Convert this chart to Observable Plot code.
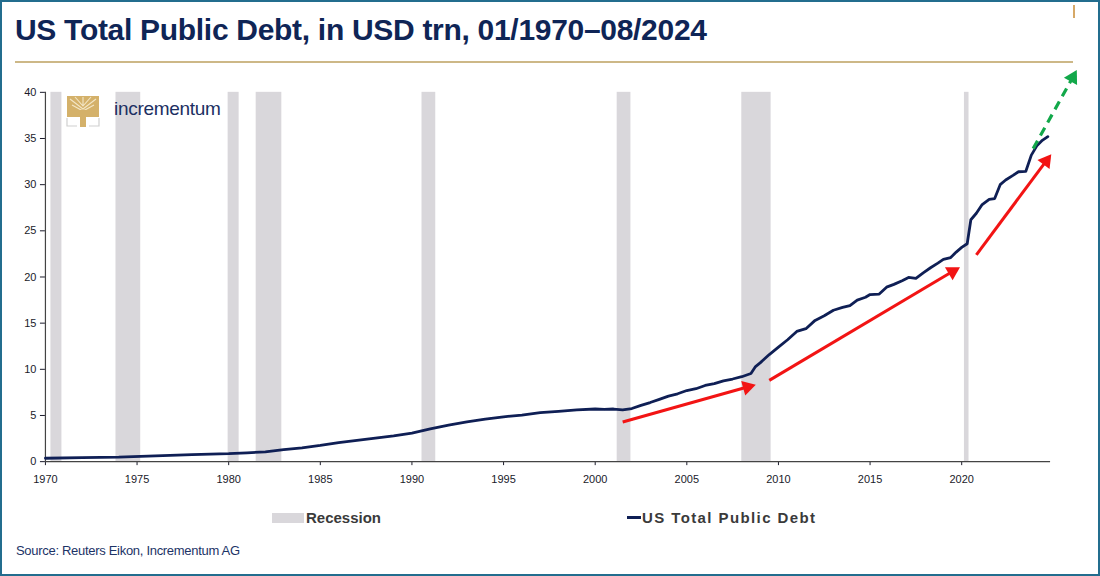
<!DOCTYPE html>
<html>
<head>
<meta charset="utf-8">
<script src="https://cdn.jsdelivr.net/npm/d3@7"></script>
<script src="https://cdn.jsdelivr.net/npm/@observablehq/plot@0.6"></script>
<style>
  html, body { margin: 0; padding: 0; background: #fff; }
  #page { position: relative; width: 1100px; height: 576px; box-sizing: border-box; border: 2px solid #236d8e; overflow: hidden; font-family: Arial, "Liberation Sans", sans-serif; }
  #title { position: absolute; left: 13px; top: 11px; font-size: 30px; font-weight: bold; color: #0f2556; letter-spacing: -0.3px; white-space: nowrap; }
  #rule { position: absolute; left: 13px; top: 59px; width: 1058px; height: 2px; background: #cdb887; }
  #tick { position: absolute; left: 1071px; top: 3px; width: 2px; height: 13px; background: #d6a867; }
  #chart { position: absolute; left: -2px; top: -2px; }
  #logo { position: absolute; left: 64px; top: 94px; display: flex; align-items: center; }
  #logo span { font-size: 19px; color: #1c2f62; margin-left: 14px; letter-spacing: -0.3px; margin-top: -6px; }
  .leg { position: absolute; top: 507px; font-size: 15px; font-weight: bold; color: #3a3a3a; display: flex; align-items: center; white-space: nowrap; }
  #source { position: absolute; left: 14px; top: 541px; font-size: 13px; color: #1c3366; letter-spacing: -0.3px; }
</style>
</head>
<body>
<div id="page">
  <div id="title">US Total Public Debt, in USD trn, 01/1970–08/2024</div>
  <div id="rule"></div>
  <div id="tick"></div>
  <div id="chart"></div>
  <div id="logo">
    <svg width="34" height="32" viewBox="0 0 34 32">
      <rect x="1" y="0" width="32" height="21" fill="#d4b16a"/>
      <path d="M4 3 L17 13 L30 3 M9 1 L17 10 L25 1 M17 1 L17 10 M6 9 L17 15 L28 9" stroke="#f3e6c6" stroke-width="1.1" fill="none"/>
      <rect x="14" y="14" width="6" height="17" fill="#d4b16a"/>
      <path d="M1 22 L1 30 L11 30 M33 22 L33 30 L23 30" stroke="#d0d0d0" stroke-width="1.2" fill="none"/>
    </svg>
    <span>incrementum</span>
  </div>
  <div class="leg" style="left:270px"><span style="display:inline-block;width:32px;height:10px;background:#d9d7db;margin-right:2px"></span>Recession</div>
  <div class="leg" style="left:625px;letter-spacing:1.4px"><span style="display:inline-block;width:14px;height:3px;background:#0f1f55;margin-right:1px"></span>US Total Public Debt</div>
  <div id="source">Source: Reuters Eikon, Incrementum AG</div>
</div>
<script>
// Debt series (fractional year, USD trn)
const years = [1970.0,1972.0,1974.0,1976.0,1978.0,1980.0,1981.0,1982.0,1983.0,1984.0,1985.0,1986.0,1987.0,1988.0,1989.0,1990.0,1991.0,1992.0,1993.0,1994.0,1995.0,1996.0,1997.0,1998.0,1999.0,2000.0,2000.5,2001.0,2001.5,2002.0,2002.5,2003.0,2003.5,2004.0,2004.5,2005.0,2005.5,2006.0,2006.5,2007.0,2007.5,2008.0,2008.5,2008.75,2009.0,2009.5,2010.0,2010.5,2011.0,2011.5,2012.0,2012.5,2013.0,2013.5,2013.9,2014.3,2014.75,2015.0,2015.5,2015.9,2016.3,2016.75,2017.1,2017.5,2017.9,2018.3,2018.7,2019.0,2019.4,2019.7,2020.0,2020.3,2020.5,2020.8,2021.1,2021.5,2021.8,2022.1,2022.4,2022.8,2023.1,2023.5,2023.8,2024.1,2024.4,2024.7];
const debt = [0.37,0.43,0.48,0.62,0.77,0.86,0.96,1.06,1.30,1.50,1.75,2.05,2.30,2.55,2.80,3.10,3.55,3.95,4.30,4.60,4.85,5.05,5.30,5.45,5.60,5.70,5.65,5.70,5.60,5.75,6.10,6.40,6.75,7.10,7.35,7.70,7.90,8.25,8.45,8.75,8.95,9.20,9.55,10.30,10.70,11.60,12.40,13.20,14.10,14.40,15.30,15.80,16.40,16.70,16.90,17.50,17.80,18.10,18.15,18.90,19.20,19.60,19.95,19.85,20.45,21.00,21.50,21.90,22.10,22.70,23.20,23.60,26.20,26.90,27.80,28.40,28.50,30.00,30.50,31.00,31.40,31.45,33.20,34.20,34.80,35.20];

// Recession periods (start, end)
const recStart = [1970.3,1973.85,1979.97,1981.5,1990.55,2001.2,2008.0,2020.15];
const recEnd   = [1970.9,1975.2,1980.57,1982.9,1991.3,2001.95,2009.6,2020.4];

// Trend arrows (red) and projection arrow (green): start and tip, in data units
const arrX1 = [2001.5,2009.5,2020.8];
const arrY1 = [4.3,8.8,22.4];
const arrX2 = [2008.7,2019.85,2024.85];
const arrY2 = [8.3,21.0,33.2];
const projX1 = [2023.9], projY1 = [33.9], projX2 = [2026.25], projY2 = [42.3];

const xTicks = [1970,1975,1980,1985,1990,1995,2000,2005,2010,2015,2020];
const yTicks = [0,5,10,15,20,25,30,35,40];

// layout
const W = 1100, H = 490, mT = 92, mB = 28, mL = 45, mR = 48;
const xDom = [1970, 2024.85], yDom = [0, 40];
const kx = (W - mL - mR) / (xDom[1] - xDom[0]);
const ky = (H - mT - mB) / (yDom[1] - yDom[0]);
const HEAD_BACK = 7.5; // px from tip to triangle centre

function arrowParts(x1s, y1s, x2s, y2s) {
  return x1s.map((x1, i) => {
    const y1 = y1s[i], x2 = x2s[i], y2 = y2s[i];
    const dx = (x2 - x1) * kx, dy = -(y2 - y1) * ky;
    const len = Math.hypot(dx, dy);
    const ux = dx / len, uy = dy / len;
    const xc = x2 - HEAD_BACK * ux / kx;
    const yc = y2 + HEAD_BACK * uy / ky;
    return {x1, y1, x2: xc, y2: yc, rot: Math.atan2(ux, -uy) * 180 / Math.PI};
  });
}

const series = years.map((y,i)=>({year:y, debt:debt[i]}));
const recessions = recStart.map((s,i)=>({x1:s, x2:recEnd[i]}));
const arrows = arrowParts(arrX1, arrY1, arrX2, arrY2);
const proj = arrowParts(projX1, projY1, projX2, projY2);

const chart = Plot.plot({
  width: W,
  height: H,
  marginTop: mT,
  marginBottom: mB,
  marginLeft: mL,
  marginRight: mR,
  style: {fontFamily: "Arial, 'Liberation Sans', sans-serif", fontSize: "11px", color: "#1a1a2a", background: "transparent", overflow: "visible"},
  x: {domain: xDom, ticks: xTicks, tickFormat: d => String(d), tickSize: 4, label: null, tickPadding: 10},
  y: {domain: yDom, ticks: yTicks, tickSize: 5, label: null, tickPadding: 4},
  marks: [
    Plot.rect(recessions, {x1: "x1", x2: "x2", y1: 0, y2: 40, fill: "#d9d7db"}),
    Plot.ruleY([0], {stroke: "#444", strokeWidth: 1.2}),
    Plot.ruleX([1970], {stroke: "#444", strokeWidth: 1.2}),
    Plot.line(series, {x: "year", y: "debt", stroke: "#0f1f55", strokeWidth: 2.8, curve: "linear"}),
    Plot.link(arrows, {x1: "x1", y1: "y1", x2: "x2", y2: "y2", stroke: "#f21414", strokeWidth: 3}),
    Plot.dot(arrows, {x: "x2", y: "y2", symbol: "triangle", rotate: "rot", r: 5.6, fill: "#f21414", stroke: "none"}),
    Plot.link(proj, {x1: "x1", y1: "y1", x2: "x2", y2: "y2", stroke: "#12a84a", strokeWidth: 3.2, strokeDasharray: "9,6", clip: false}),
    Plot.dot(proj, {x: "x2", y: "y2", symbol: "triangle", rotate: "rot", r: 5.6, fill: "#12a84a", stroke: "none", clip: false})
  ]
});
document.getElementById("chart").appendChild(chart);
</script>
</body>
</html>
